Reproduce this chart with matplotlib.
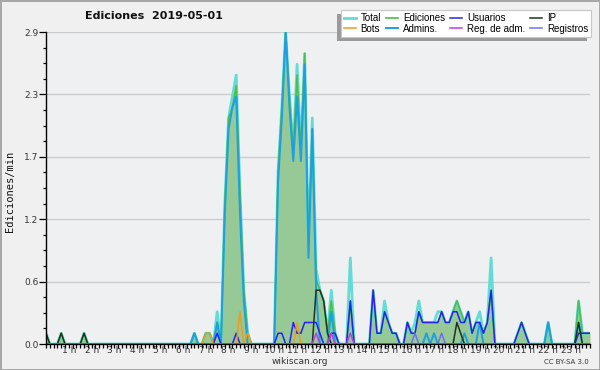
import numpy as np
import matplotlib
matplotlib.use('Agg')
import matplotlib.pyplot as plt
from matplotlib.ticker import FixedLocator, MultipleLocator
from matplotlib.patches import Rectangle

title = 'Ediciones  2019-05-01'
ylabel = 'Ediciones/min'

# edits per minute, per 10-minute slot (slots not listed are 0)
total = {'00:00': .1, '00:40': .1, '01:40': .1, '06:30': .1, '07:00': .1, '07:10': .1,
         '07:30': .3, '07:50': 1.3, '08:00': 2.1, '08:10': 2.3, '08:20': 2.5, '08:30': 1.4,
         '08:40': .5, '08:50': .1, '10:10': 1.6, '10:20': 2.2, '10:30': 2.9, '10:40': 2.3,
         '10:50': 1.8, '11:00': 2.6, '11:10': 1.8, '11:20': 2.7, '11:30': .9, '11:40': 2.1,
         '11:50': .7, '12:00': .5, '12:10': .4, '12:20': .1, '12:30': .5, '12:40': .1,
         '13:20': .8, '14:20': .5, '14:30': .1, '14:40': .1, '14:50': .4, '15:00': .2,
         '15:10': .1, '15:20': .1, '15:50': .2, '16:00': .1, '16:10': .2, '16:20': .4,
         '16:30': .2, '16:40': .2, '16:50': .2, '17:00': .2, '17:10': .3, '17:20': .3,
         '17:30': .2, '17:40': .2, '17:50': .3, '18:00': .4, '18:10': .3, '18:20': .2,
         '18:30': .3, '18:40': .1, '18:50': .2, '19:00': .3, '19:10': .1, '19:20': .2,
         '19:30': .8, '20:40': .1, '20:50': .2, '21:00': .1, '22:00': .2, '23:20': .4,
         '23:30': .1, '23:40': .1, '23:50': .1}
ediciones = {'00:00': .1, '00:40': .1, '01:40': .1, '06:30': .1, '07:00': .1, '07:10': .1,
             '07:30': .2, '07:50': 1.3, '08:00': 2.1, '08:10': 2.2, '08:20': 2.4, '08:30': 1.4,
             '08:40': .5, '08:50': .1, '10:10': 1.6, '10:20': 2.2, '10:30': 2.9, '10:40': 2.3,
             '10:50': 1.8, '11:00': 2.5, '11:10': 1.8, '11:20': 2.7, '11:30': .9, '11:40': 2.0,
             '11:50': .6, '12:00': .5, '12:10': .4, '12:20': .1, '12:30': .4, '12:40': .1,
             '13:20': .4, '14:20': .5, '14:30': .1, '14:40': .1, '14:50': .3, '15:00': .2,
             '15:10': .1, '15:20': .1, '15:50': .2, '16:00': .1, '16:10': .1, '16:20': .3,
             '16:30': .2, '16:40': .2, '16:50': .2, '17:00': .2, '17:10': .2, '17:20': .3,
             '17:30': .2, '17:40': .2, '17:50': .3, '18:00': .4, '18:10': .3, '18:20': .2,
             '18:30': .3, '18:40': .1, '18:50': .2, '19:00': .2, '19:10': .1, '19:20': .2,
             '19:30': .5, '20:40': .1, '20:50': .2, '21:00': .1, '22:00': .2, '23:20': .4,
             '23:30': .1, '23:40': .1, '23:50': .1}
usuarios = {'07:30': .1, '08:20': .1, '10:10': .1, '10:20': .1, '10:50': .2, '11:00': .1,
            '11:10': .1, '11:20': .2, '11:30': .2, '11:40': .2, '11:50': .2, '12:00': .1,
            '12:30': .1, '12:40': .1, '13:20': .4, '14:20': .5, '14:30': .1, '14:40': .1,
            '14:50': .3, '15:00': .2, '15:10': .1, '15:20': .1, '15:50': .2, '16:00': .1,
            '16:10': .1, '16:20': .3, '16:30': .2, '16:40': .2, '16:50': .2, '17:00': .2,
            '17:10': .2, '17:20': .3, '17:30': .2, '17:40': .2, '17:50': .3, '18:00': .3,
            '18:10': .2, '18:20': .2, '18:30': .3, '18:40': .1, '18:50': .2, '19:00': .2,
            '19:10': .1, '19:20': .2, '19:30': .5, '20:40': .1, '20:50': .2, '21:00': .1,
            '23:20': .1, '23:30': .1, '23:40': .1, '23:50': .1}
ip = {'00:00': .1, '00:40': .1, '01:40': .1, '11:50': .5, '12:00': .5, '12:10': .4,
      '12:20': .1, '18:00': .2, '18:10': .1, '23:20': .2}
bots = {'07:00': .1, '07:10': .1, '08:30': .3, '08:50': .1, '11:00': .2}
admins = {'06:30': .1, '07:30': .2, '07:50': 1.2, '08:00': 2.0, '08:10': 2.2, '08:20': 2.3,
          '08:30': 1.2, '08:40': .4, '10:10': 1.5, '10:20': 2.1, '10:30': 2.9, '10:40': 2.2,
          '10:50': 1.7, '11:00': 2.3, '11:10': 1.7, '11:20': 2.6, '11:30': .8, '11:40': 2.0,
          '11:50': .5, '12:30': .3, '16:40': .1, '17:00': .1, '18:20': .1, '19:00': .2,
          '22:00': .2, '23:20': .2}
reg_adm = {'11:50': .1, '12:30': .1, '13:20': .1}
registros = {'16:10': .1, '17:20': .1}

hour_labels = ['1 h', '2 h', '3 h', '4 h', '5 h', '6 h', '7 h', '8 h', '9 h', '10 h', '11 h',
               '12 h', '13 h', '14 h', '15 h', '16 h', '17 h', '18 h', '19 h', '20 h', '21 h',
               '22 h', '23 h']
ymax = 2.9


def slots(d):
    v = np.zeros(144)
    for t, val in d.items():
        h, m = t.split(':')
        v[int(h) * 6 + int(m) // 10] = val
    return v


x = np.arange(144) / 6.0

fig = plt.figure(figsize=(6, 3.7), dpi=100, facecolor='#f0f0f0')
fig.patch.set_edgecolor('#a8a8a8')
fig.patch.set_linewidth(2)
ax = fig.add_axes([46 / 600, 26 / 370, 544 / 600, 312 / 370])
ax.set_facecolor('#eef0f2')

ed = slots(ediciones)
ax.fill_between(x, 0, ed, color='#96c996', lw=0, zorder=1)
series = [
    ('Total', total, '#62dcd4', 2.0),
    ('Ediciones', ediciones, '#4cbf4c', 1.2),
    ('Admins.', admins, '#1d9fe0', 1.4),
    ('Usuarios', usuarios, '#2424ee', 1.1),
    ('IP', ip, '#1e3320', 1.1),
    ('Bots', bots, '#f29a1c', 1.1),
    ('Reg. de adm.', reg_adm, '#c13ee6', 1.1),
    ('Registros', registros, '#6f6ff2', 1.1),
]
lines = {}
for i, (name, d, c, lw) in enumerate(series):
    lines[name], = ax.plot(x, slots(d), color=c, lw=lw, zorder=2 + i, label=name,
                           solid_joinstyle='round')

ax.set_xlim(0, 143 / 6.0)
ax.set_ylim(0, ymax)
yt = np.linspace(0, ymax, 6)
ax.yaxis.set_major_locator(FixedLocator(yt))
ax.set_yticklabels(['%.1f' % v for v in yt])
ax.yaxis.set_minor_locator(MultipleLocator(ymax / 20))
ax.xaxis.set_major_locator(FixedLocator(np.arange(1, 24)))
ax.set_xticklabels(hour_labels)
ax.xaxis.set_minor_locator(MultipleLocator(1 / 6.0))
ax.grid(axis='y', which='major', color='#cdcdcd', lw=1)
ax.set_axisbelow(True)
for s in ['top', 'right']:
    ax.spines[s].set_visible(False)
for s in ['left', 'bottom']:
    ax.spines[s].set_linewidth(1)
    ax.spines[s].set_zorder(20)
ax.tick_params(axis='x', which='both', direction='out', length=3, width=0.9,
               labelsize=6.5, pad=-1.5, labelcolor='#333333')
ax.tick_params(axis='y', which='major', direction='out', length=5, width=0.9,
               labelsize=6.5, pad=0.5, labelcolor='#333333')
ax.tick_params(axis='y', which='minor', direction='out', length=2.5, width=0.9)

fig.text(153.5 / 600, 1 - 16 / 370, title, ha='center', va='center', fontsize=8,
         fontweight='bold', color='#111111')
fig.text(10 / 600, 1 - 191 / 370, ylabel, rotation=90, ha='center', va='center',
         family='DejaVu Sans Mono', fontsize=7.5, color='#111111')
fig.text(300 / 600, 1 - 362 / 370, 'wikiscan.org', ha='center', va='center',
         fontsize=6.5, color='#333333')
fig.text(589 / 600, 1 - 362 / 370, 'CC BY-SA 3.0', ha='right', va='center',
         fontsize=5, color='#333333')

order = ['Total', 'Bots', 'Ediciones', 'Admins.', 'Usuarios', 'Reg. de adm.', 'IP', 'Registros']
leg = fig.legend([lines[n] for n in order], order, ncol=4, loc='upper right',
                 bbox_to_anchor=(591 / 600, 1 - 10 / 370), frameon=True,
                 prop={'family': 'Liberation Sans', 'size': 7},
                 fancybox=False, handlelength=1.25, columnspacing=0.5, handletextpad=0.5,
                 labelspacing=0.1, borderpad=0.3, borderaxespad=0)
leg.get_frame().set_edgecolor('#c8c8c8')
leg.get_frame().set_linewidth(0.8)
leg.get_frame().set_facecolor('white')
leg.get_frame().set_alpha(1)
leg.set_zorder(30)
fig.canvas.draw()
bb = leg.get_window_extent()
fig.add_artist(Rectangle((bb.x0 - 4, bb.y0 - 4), bb.width, bb.height, transform=None,
                         facecolor='#9a9a9a', edgecolor='none', zorder=29))

fig.savefig('out.png', dpi=100, facecolor=fig.get_facecolor(), edgecolor=fig.get_edgecolor())
